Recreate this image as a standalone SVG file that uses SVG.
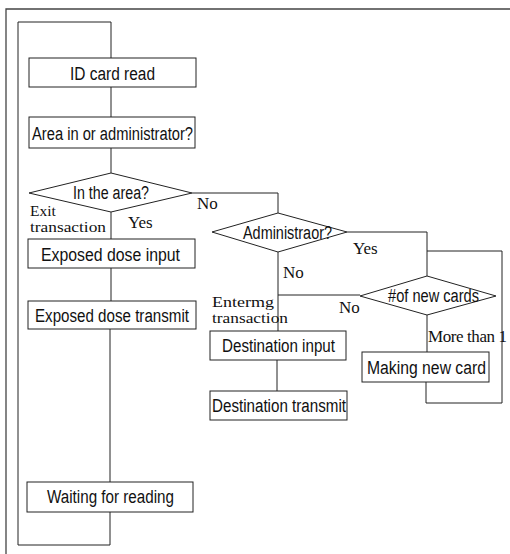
<svg xmlns="http://www.w3.org/2000/svg" width="510" height="554" viewBox="0 0 510 554">
<style>
.box{fill:#fff;stroke:#222;stroke-width:1}
.ln{fill:none;stroke:#222;stroke-width:1}
.frame{fill:none;stroke:#444;stroke-width:1.3}
.t{font-family:"Liberation Sans",Arial,sans-serif;font-size:18px;fill:#111;text-anchor:middle}
.s{font-family:"Liberation Serif","Times New Roman",serif;font-size:17px;fill:#111}
.s2{font-family:"Liberation Serif","Times New Roman",serif;font-size:15.5px;fill:#111}
</style>
<rect width="510" height="554" fill="#fff"/>
<g id="frame">
<polyline class="frame" points="6,554 6,9 510,9"/>
</g>
<g id="connectors">
<polyline class="ln" points="111,58 111,22 18,22 18,545 110,545 110,512"/>
<line class="ln" x1="111" y1="87" x2="111" y2="117"/>
<line class="ln" x1="111" y1="148" x2="111" y2="173"/>
<line class="ln" x1="111" y1="212" x2="111" y2="239"/>
<line class="ln" x1="111" y1="268" x2="111" y2="301"/>
<line class="ln" x1="110" y1="329" x2="110" y2="482"/>
<polyline class="ln" points="192,193 278,193 278,213"/>
<line class="ln" x1="278" y1="252" x2="278" y2="331"/>
<polyline class="ln" points="347,232 427,232 427,276"/>
<polyline class="ln" points="360,295 278,295"/>
<line class="ln" x1="427" y1="315" x2="427" y2="352"/>
<line class="ln" x1="277" y1="360" x2="277" y2="391"/>
<polyline class="ln" points="427,251 502,251 502,403 426,403 426,382"/>
</g>
<g id="n-idcard">
<rect class="box" x="29" y="58" width="167" height="29"/>
<text class="t" x="112.5" y="80" textLength="85" lengthAdjust="spacingAndGlyphs">ID card read</text>
</g>
<g id="n-area">
<rect class="box" x="29" y="117" width="166" height="31"/>
<text class="t" x="112.5" y="140" textLength="161" lengthAdjust="spacingAndGlyphs">Area in or administrator?</text>
</g>
<g id="n-inarea">
<polygon class="box" points="29,193 111,173 192,193 111,212"/>
<text class="t" x="111" y="199" textLength="76" lengthAdjust="spacingAndGlyphs">In the area?</text>
</g>
<g id="n-expinput">
<rect class="box" x="28" y="239" width="167" height="29"/>
<text class="t" x="110.5" y="261" textLength="139" lengthAdjust="spacingAndGlyphs">Exposed dose input</text>
</g>
<g id="n-exptransmit">
<rect class="box" x="28" y="301" width="168" height="28"/>
<text class="t" x="112" y="322" textLength="154" lengthAdjust="spacingAndGlyphs">Exposed dose transmit</text>
</g>
<g id="n-admin">
<polygon class="box" points="212,232 278,213 347,232 278,252"/>
<text class="t" x="287.5" y="239" textLength="89" lengthAdjust="spacingAndGlyphs">Administraor?</text>
</g>
<g id="n-newcards">
<polygon class="box" points="360,296 427,276 496,296 427,315"/>
<text class="t" x="433.5" y="302" textLength="91" lengthAdjust="spacingAndGlyphs">#of new cards</text>
</g>
<g id="n-destinput">
<rect class="box" x="210" y="331" width="136" height="29"/>
<text class="t" x="278.5" y="352" textLength="113" lengthAdjust="spacingAndGlyphs">Destination input</text>
</g>
<g id="n-desttransmit">
<rect class="box" x="210" y="391" width="137" height="29"/>
<text class="t" x="279" y="412" textLength="134" lengthAdjust="spacingAndGlyphs">Destination transmit</text>
</g>
<g id="n-making">
<rect class="box" x="362" y="352" width="127" height="30"/>
<text class="t" x="426.5" y="374" textLength="119" lengthAdjust="spacingAndGlyphs">Making new card</text>
</g>
<g id="n-waiting">
<rect class="box" x="27" y="482" width="166" height="30"/>
<text class="t" x="110.5" y="503" textLength="127" lengthAdjust="spacingAndGlyphs">Waiting for reading</text>
</g>
<g id="labels">
<text class="s2" x="30" y="216">Exit</text>
<text class="s2" x="30" y="232" textLength="76" lengthAdjust="spacingAndGlyphs">transaction</text>
<text class="s" x="128" y="228">Yes</text>
<text class="s" x="197" y="209">No</text>
<text class="s" x="353" y="254">Yes</text>
<text class="s" x="283" y="278">No</text>
<text class="s" x="339" y="313">No</text>
<text class="s2" x="212" y="307" textLength="62" lengthAdjust="spacingAndGlyphs">Entermg</text>
<text class="s2" x="212" y="323" textLength="76" lengthAdjust="spacingAndGlyphs">transaction</text>
<text class="s" x="428" y="342" font-size="16" textLength="79">More than 1</text>
</g>
</svg>
